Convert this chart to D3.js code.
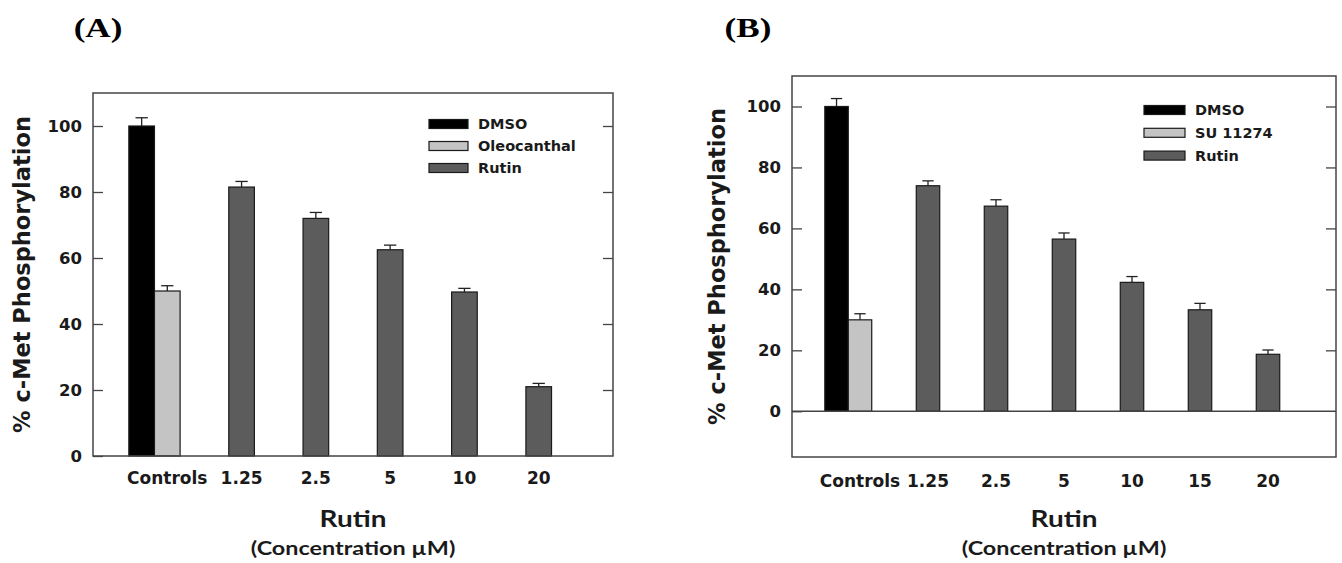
<!DOCTYPE html>
<html>
<head>
<meta charset="utf-8">
<script src="https://cdn.jsdelivr.net/npm/d3@7"></script>
<style>
    body { margin: 0; background: #fff; }
    svg text { font-family: "DejaVu Sans", sans-serif; font-weight: bold; fill: #1a1a1a; }
    .axis path.domain { display: none; }
    .axis line { stroke: #444; stroke-width: 1.3px; }
</style>
</head>
<body>
<svg class="chart" width="1342" height="563"></svg>
<script>
// Panel A: Oleocanthal as positive control
var seriesA = ["DMSO", "Oleocanthal", "Rutin"];
var categoriesA = ["Controls", "1.25", "2.5", "5", "10", "20"];
var controlsA = [100, 50];
var controlsErrA = [2.5, 1.6];
var rutinA = [81.5, 72, 62.5, 49.7, 21];
var rutinErrA = [1.7, 1.8, 1.4, 1.1, 1.0];
var yTicksA = [0, 20, 40, 60, 80, 100];

// Panel B: SU 11274 as positive control
var seriesB = ["DMSO", "SU 11274", "Rutin"];
var categoriesB = ["Controls", "1.25", "2.5", "5", "10", "15", "20"];
var controlsB = [100, 30];
var controlsErrB = [2.6, 2.0];
var rutinB = [74, 67.3, 56.5, 42.3, 33.3, 18.7];
var rutinErrB = [1.6, 2.1, 2.0, 1.9, 2.1, 1.4];
var yTicksB = [0, 20, 40, 60, 80, 100];

var fills = ["#000000", "#c4c4c4", "#5c5c5c"];
var barW = 0.345; // bar width in category units

var svg = d3.select(".chart");

function renderPanel(o) {
    var g = svg.append("g");

    var x = d3.scaleLinear()
        .domain([0, o.categories.length + 1])
        .range([o.left, o.right]);
    var y = d3.scaleLinear()
        .domain(o.yDomain)
        .range([o.bottom, o.top]);

    // controls: DMSO sits left of the control slot, positive control centred on it
    var bars = [
        { pos: 1 - barW, value: o.controls[0], err: o.controlsErr[0], s: 0 },
        { pos: 1, value: o.controls[1], err: o.controlsErr[1], s: 1 }
    ];
    o.rutin.forEach(function(v, i) {
        bars.push({ pos: i + 2, value: v, err: o.rutinErr[i], s: 2 });
    });

    var bw = x(barW) - x(0);

    // error bars (upper only)
    var eb = g.selectAll(".err")
        .data(bars)
        .enter().append("g")
        .attr("class", "err");
    eb.append("line")
        .attr("x1", function(d) { return x(d.pos); })
        .attr("x2", function(d) { return x(d.pos); })
        .attr("y1", function(d) { return y(d.value); })
        .attr("y2", function(d) { return y(d.value + d.err); })
        .attr("stroke", "#222").attr("stroke-width", 1.3);
    eb.append("line")
        .attr("x1", function(d) { return x(d.pos) - bw * 0.24; })
        .attr("x2", function(d) { return x(d.pos) + bw * 0.24; })
        .attr("y1", function(d) { return y(d.value + d.err); })
        .attr("y2", function(d) { return y(d.value + d.err); })
        .attr("stroke", "#222").attr("stroke-width", 1.3);

    g.selectAll(".bar")
        .data(bars)
        .enter().append("rect")
        .attr("class", "bar")
        .attr("x", function(d) { return x(d.pos - barW / 2); })
        .attr("width", bw)
        .attr("y", function(d) { return y(d.value); })
        .attr("height", function(d) { return y(0) - y(d.value); })
        .attr("fill", function(d) { return fills[d.s]; })
        .attr("stroke", "#1a1a1a")
        .attr("stroke-width", 1.2);

    // zero line when axis goes below 0
    if (o.yDomain[0] < 0) {
        g.append("line")
            .attr("x1", o.left).attr("x2", o.right)
            .attr("y1", y(0)).attr("y2", y(0))
            .attr("stroke", "#444").attr("stroke-width", 1.5);
    }

    // frame
    g.append("rect")
        .attr("x", o.left).attr("y", o.top)
        .attr("width", o.right - o.left)
        .attr("height", o.bottom - o.top)
        .attr("fill", "none")
        .attr("stroke", "#444")
        .attr("stroke-width", 1.5);

    var yAxis = d3.axisLeft(y)
        .tickValues(o.yTicks)
        .tickSize(-10)
        .tickPadding(11);
    g.append("g")
        .attr("class", "y axis")
        .attr("transform", "translate(" + o.left + ",0)")
        .call(yAxis)
        .selectAll("text")
        .attr("font-size", 16.5)
        .attr("font-family", "DejaVu Sans");

    g.append("g")
        .attr("class", "y axis")
        .attr("transform", "translate(" + o.right + ",0)")
        .call(d3.axisRight(y)
            .tickValues(o.yTicks.filter(function(v) { return v > 0; }))
            .tickSize(-10)
            .tickFormat(""));

    // category labels
    g.selectAll(".xlab")
        .data(o.categories)
        .enter().append("text")
        .attr("class", "xlab")
        .attr("x", function(d, i) { return x(i + 1); })
        .attr("y", o.xLabelY)
        .attr("text-anchor", "middle")
        .attr("font-size", 17)
        .text(function(d) { return d; });

    // y title
    g.append("text")
        .attr("transform", "translate(" + o.yTitleX + "," + (o.top + o.bottom) / 2 + ") rotate(-90)")
        .attr("text-anchor", "middle")
        .attr("font-size", 22.5)
        .text("% c-Met Phosphorylation");

    // x titles
    var cx = (o.left + o.right) / 2;
    g.append("text")
        .attr("transform", "translate(" + cx + ",527) scale(1.27,1)")
        .attr("text-anchor", "middle")
        .style("font-family", "Lato, sans-serif")
        .attr("font-size", 22)
        .text("Rutin");
    g.append("text")
        .attr("transform", "translate(" + cx + ",555) scale(1.3,1)")
        .attr("text-anchor", "middle")
        .style("font-family", "Lato, sans-serif")
        .attr("font-size", 18)
        .text("(Concentration µM)");

    // panel letter
    g.append("text")
        .attr("transform", "translate(" + o.labelX + ",37) scale(1.3,1)")
        .attr("text-anchor", "middle")
        .style("font-family", "'Liberation Serif', serif")
        .style("fill", "#000")
        .attr("font-size", 27)
        .text(o.label);

    // legend
    var leg = g.selectAll(".legend")
        .data(o.series)
        .enter().append("g")
        .attr("class", "legend")
        .attr("transform", function(d, i) {
            return "translate(" + o.legendX + "," + (o.legendY + i * o.legendGap) + ")";
        });
    leg.append("rect")
        .attr("x", 0).attr("y", -4.5)
        .attr("width", o.legendW).attr("height", 9)
        .attr("fill", function(d, i) { return fills[i]; })
        .attr("stroke", "#1a1a1a")
        .attr("stroke-width", 1.2);
    leg.append("text")
        .attr("x", o.legendW + 10)
        .attr("y", 5.3)
        .attr("font-size", 14.5)
        .text(function(d) { return d; });
}

renderPanel({
    left: 93, right: 613, top: 93, bottom: 456,
    yDomain: [0, 110], yTicks: yTicksA,
    categories: categoriesA, series: seriesA,
    controls: controlsA, controlsErr: controlsErrA,
    rutin: rutinA, rutinErr: rutinErrA,
    xLabelY: 484, yTitleX: 30,
    label: "(A)", labelX: 98,
    legendX: 429, legendY: 124, legendGap: 22, legendW: 39
});

renderPanel({
    left: 792, right: 1336, top: 76, bottom: 457,
    yDomain: [-15, 110], yTicks: yTicksB,
    categories: categoriesB, series: seriesB,
    controls: controlsB, controlsErr: controlsErrB,
    rutin: rutinB, rutinErr: rutinErrB,
    xLabelY: 487, yTitleX: 725,
    label: "(B)", labelX: 748,
    legendX: 1144, legendY: 110, legendGap: 22.8, legendW: 41
});
</script>
</body>
</html>
